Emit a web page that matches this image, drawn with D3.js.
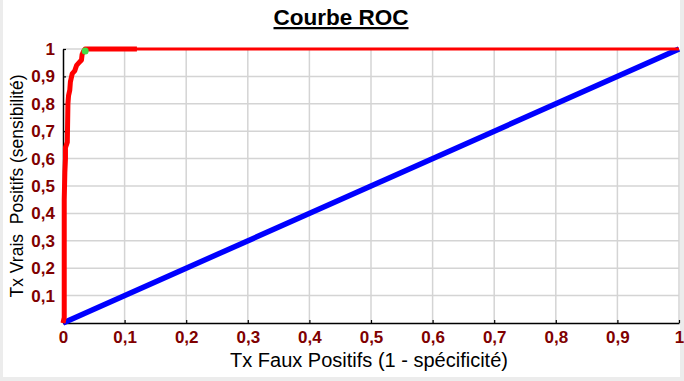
<!DOCTYPE html>
<html><head><meta charset="utf-8">
<script src="https://cdn.jsdelivr.net/npm/d3@7/dist/d3.min.js"></script>
<style>
html,body{margin:0;padding:0;background:#ececec;}
svg{display:block;}
</style></head>
<body>
<svg id="chart" width="684" height="381"></svg>
<script>
const titleText = "Courbe ROC";
const xLabel = "Tx Faux Positifs (1 - spécificité)";
const yLabel = "Tx Vrais  Positifs (sensibilité)";
const tickValues = [0,0.1,0.2,0.3,0.4,0.5,0.6,0.7,0.8,0.9,1];
const tickLabels = ["0","0,1","0,2","0,3","0,4","0,5","0,6","0,7","0,8","0,9","1"];
// ROC curve (false positive rate, true positive rate)
const rocFpr = [0, 0.002, 0.002, 0.003, 0.004, 0.004, 0.007, 0.008, 0.009, 0.011, 0.012, 0.015, 0.019, 0.022, 0.026, 0.030, 0.031, 0.033, 0.036, 0.12, 1];
const rocTpr = [0, 0.02, 0.45, 0.55, 0.60, 0.64, 0.66, 0.80, 0.83, 0.85, 0.88, 0.91, 0.92, 0.94, 0.95, 0.96, 0.98, 0.99, 1, 1, 1];
const thickCount = 20; // points drawn with heavy stroke (up to fpr 0.12)
// Reference diagonal
const diagFpr = [0, 1];
const diagTpr = [0, 1];
// Optimal point
const optFpr = [0.036];
const optTpr = [0.993];

const svg = d3.select("#chart");
svg.append("rect").attr("x",3).attr("y",0).attr("width",677).attr("height",377).attr("fill","#ffffff");

const x = d3.scaleLinear().domain([0,1]).range([63,679]);
const y = d3.scaleLinear().domain([0,1]).range([323,49]);

// grid
const g = svg.append("g");
g.selectAll("line.vx").data(tickValues.slice(1)).enter().append("line")
  .attr("x1",d=>x(d)).attr("x2",d=>x(d)).attr("y1",y(0)).attr("y2",y(1))
  .attr("stroke","#d4d4d4").attr("stroke-width",1.5);
g.selectAll("line.hy").data(tickValues.slice(1)).enter().append("line")
  .attr("x1",x(0)).attr("x2",x(1)).attr("y1",d=>y(d)).attr("y2",d=>y(d))
  .attr("stroke","#d4d4d4").attr("stroke-width",1.5);

// axes
const fmt = (d)=>tickLabels[tickValues.indexOf(d)];
const xAxis = d3.axisBottom(x).tickValues(tickValues).tickFormat(fmt).tickSizeInner(-3).tickSizeOuter(0).tickPadding(8);
const yAxis = d3.axisLeft(y).tickValues(tickValues).tickFormat(fmt).tickSizeInner(-3).tickSizeOuter(0).tickPadding(8);
const gx = svg.append("g").attr("transform",`translate(0,${y(0)})`).call(xAxis);
const gy = svg.append("g").attr("transform",`translate(${x(0)},0)`).call(yAxis);
[gx,gy].forEach(a=>{
  a.select(".domain").attr("stroke","#000").attr("stroke-width",1.5);
  a.selectAll(".tick line").attr("stroke","#000").attr("stroke-width",1.2);
  a.selectAll(".tick text").attr("fill","#800000").attr("font-family","Liberation Sans, Arial, sans-serif")
   .attr("font-weight","bold").attr("font-size","17px");
});
gy.selectAll(".tick").filter(d=>d===0).select("text").remove();
gx.selectAll(".tick text").attr("dy","0.71em");

// diagonal
const line = d3.line().x(d=>x(d[0])).y(d=>y(d[1]));
svg.append("path").datum(diagFpr.map((f,i)=>[f,diagTpr[i]]))
  .attr("d",line).attr("fill","none").attr("stroke","#0000ff").attr("stroke-width",5.5);

// ROC curve
const rocPts = rocFpr.map((f,i)=>[f,rocTpr[i]]);
svg.append("path").datum(rocPts).attr("d",line).attr("fill","none")
  .attr("stroke","#ff0000").attr("stroke-width",3);
svg.append("path").datum(rocPts.slice(0,thickCount)).attr("d",line).attr("fill","none")
  .attr("stroke","#ff0000").attr("stroke-width",5).attr("stroke-linejoin","round");

// optimal point
svg.selectAll("circle.opt").data(optFpr.map((f,i)=>[f,optTpr[i]])).enter().append("circle")
  .attr("cx",d=>x(d[0])).attr("cy",d=>y(d[1])).attr("r",3.5).attr("fill","#44dd44");

// titles
svg.append("text").attr("x",341).attr("y",25).attr("text-anchor","middle")
  .attr("font-family","Liberation Sans, Arial, sans-serif").attr("font-weight","bold").attr("font-size","22.5px")
  .attr("text-decoration","underline").text(titleText);
svg.append("text").attr("x",369).attr("y",367).attr("text-anchor","middle")
  .attr("font-family","Liberation Sans, Arial, sans-serif").attr("font-size","20px").attr("fill","#000").text(xLabel);
svg.append("text").attr("transform","translate(23,186) rotate(-90)").attr("text-anchor","middle")
  .attr("font-family","Liberation Sans, Arial, sans-serif").attr("font-size","17.5px").attr("fill","#000")
  .attr("xml:space","preserve").style("white-space","pre").text(yLabel);
</script>
</body></html>
